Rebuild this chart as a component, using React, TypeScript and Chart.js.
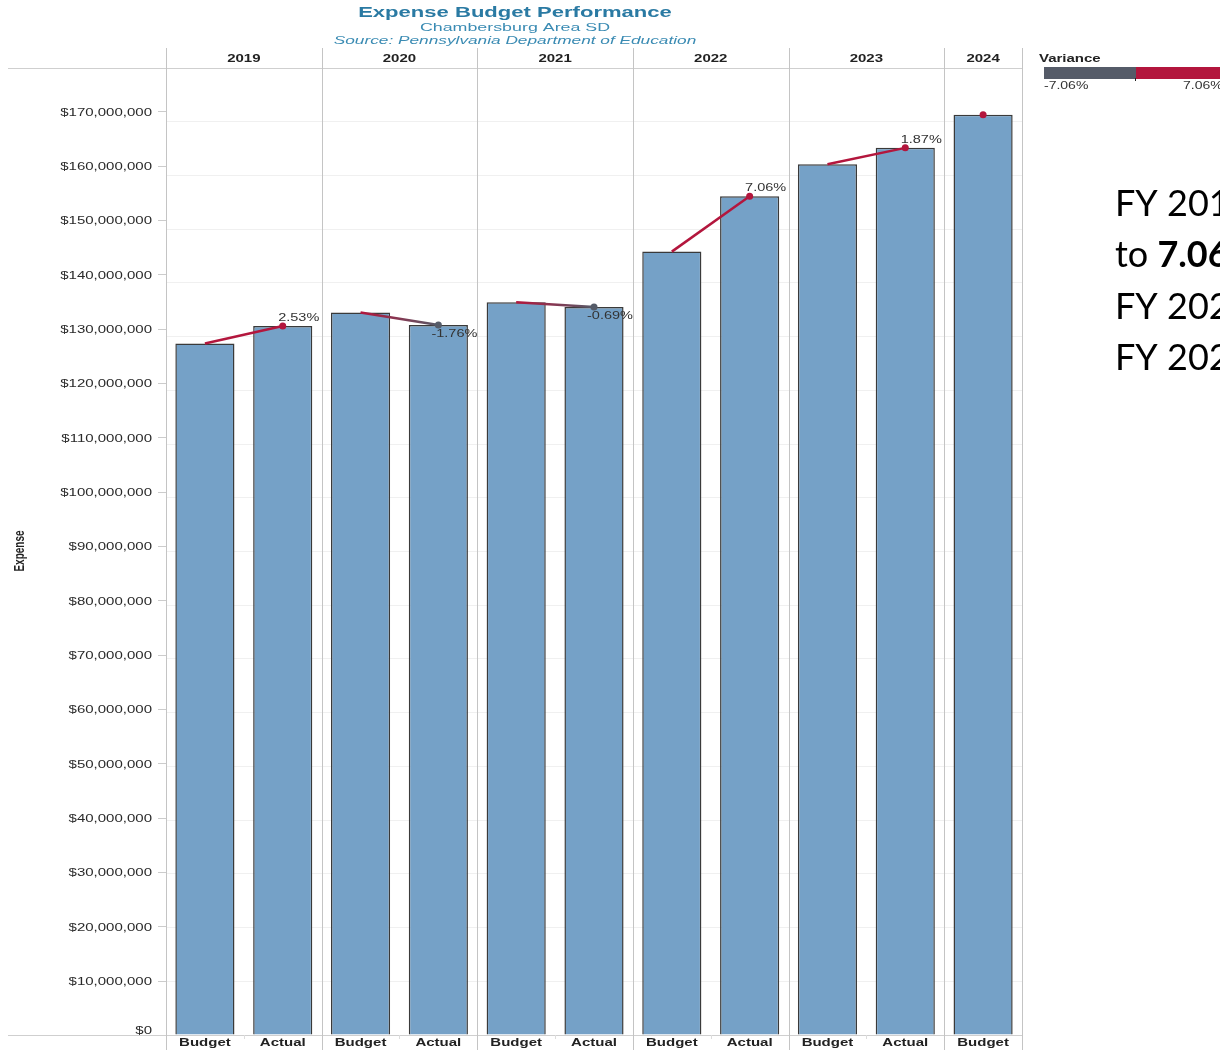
import React, { useEffect, useRef } from "react";
import { Chart, registerables } from "chart.js";

Chart.register(...registerables);

const years = ["2019", "2020", "2021", "2022", "2023", "2024"];
const budgetValues = [127300000, 133000000, 134900000, 144200000, 160300000, 169400000];
const actualValues = [130500000, 130700000, 134000000, 154400000, 163300000, null];
const variancePct = [2.53, -1.76, -0.69, 7.06, 1.87, null];
const yTickValues = [0, 10e6, 20e6, 30e6, 40e6, 50e6, 60e6, 70e6, 80e6, 90e6, 100e6, 110e6, 120e6, 130e6, 140e6, 150e6, 160e6, 170e6];
const legendRange = ["-7.06%", "7.06%"];
const sideNotes = [
  [{ t: "FY 2019 \u2013 FY 2023 variance ranged from -1.76%", b: false }],
  [{ t: "to ", b: false }, { t: "7.06%", b: true }, { t: " over budget", b: false }],
  [{ t: "FY 2022 had the largest overrun", b: false }],
  [{ t: "FY 2024 budget is $169.4M", b: false }],
];

const RED = "#b3163d";
const GRAY = "#555b68";
const BAR = "#75a1c7";
const SX = 1.5;

const categoryLabels: string[] = [];
const categoryYear: number[] = [];
const barValues: (number | null)[] = [];
years.forEach((y, i) => {
  categoryLabels.push("Budget");
  categoryYear.push(i);
  barValues.push(budgetValues[i]);
  if (actualValues[i] !== null) {
    categoryLabels.push("Actual");
    categoryYear.push(i);
    barValues.push(actualValues[i]);
  }
});

function colorFor(v: number | null) {
  if (v === null) return RED;
  return v >= 0 ? RED : GRAY;
}

function fmtMoney(v: number) {
  return "$" + Math.round(v).toLocaleString("en-US");
}

function txt(ctx: CanvasRenderingContext2D, s: string, x: number, y: number, font: string, color: string, align: CanvasTextAlign = "center", sx = SX) {
  ctx.save();
  ctx.font = font;
  ctx.fillStyle = color;
  ctx.textAlign = align;
  ctx.textBaseline = "middle";
  ctx.translate(x, y);
  ctx.scale(sx, 1);
  ctx.fillText(s, 0, 0);
  ctx.restore();
}

export default function App() {
  const ref = useRef<HTMLCanvasElement>(null);
  useEffect(() => {
    const canvas = ref.current!;
    const c2d = canvas.getContext("2d")!;

    const lineDatasets: any[] = [];
    years.forEach((y, i) => {
      const data: (number | null)[] = categoryLabels.map(() => null);
      const bIdx = categoryLabels.findIndex((_, k) => categoryYear[k] === i && categoryLabels[k] === "Budget");
      data[bIdx] = budgetValues[i];
      const radii: number[] = categoryLabels.map(() => 0);
      const colors: string[] = categoryLabels.map(() => RED);
      if (actualValues[i] !== null) {
        data[bIdx + 1] = actualValues[i];
        radii[bIdx + 1] = 3.5;
        colors[bIdx + 1] = colorFor(variancePct[i]);
      } else {
        radii[bIdx] = 3.5;
      }
      const v = variancePct[i];
      lineDatasets.push({
        type: "line",
        data,
        order: 1,
        borderColor: RED,
        borderWidth: 2.5,
        pointRadius: radii,
        pointBackgroundColor: colors,
        pointBorderColor: colors,
        pointBorderWidth: 0,
        spanGaps: false,
        segment: {
          borderColor: (sc: any) => {
            const g = c2d.createLinearGradient(sc.p0.x, sc.p0.y, sc.p1.x, sc.p1.y);
            g.addColorStop(0, RED);
            g.addColorStop(1, colorFor(v));
            return g;
          },
        },
      });
    });

    const decor = {
      id: "decor",
      afterDraw(chart: any) {
        const ctx: CanvasRenderingContext2D = chart.ctx;
        const xs = chart.scales.x;
        const ys = chart.scales.y;
        const area = chart.chartArea;
        const half = (xs.getPixelForValue(1) - xs.getPixelForValue(0)) / 2;

        // title block
        txt(ctx, "Expense Budget Performance", 515, 13, "bold 15px Arial", "#2a7aa3", "center", 1.47);
        txt(ctx, "Chambersburg Area SD", 515, 27.5, "11.5px Arial", "#3a8bb3", "center", 1.55);
        txt(ctx, "Source: Pennsylvania Department of Education", 515, 40.5, "italic 11.5px Arial", "#3a8bb3", "center", 1.5);

        // header & bottom lines
        ctx.save();
        ctx.strokeStyle = "#cfcfcf";
        ctx.lineWidth = 1;
        ctx.beginPath();
        ctx.moveTo(8, 68.5);
        ctx.lineTo(area.right, 68.5);
        ctx.moveTo(8, area.bottom + 0.5);
        ctx.lineTo(area.right, area.bottom + 0.5);
        ctx.stroke();

        // vertical pane dividers
        ctx.strokeStyle = "#c4c4c4";
        const bounds: number[] = [area.left];
        years.forEach((_, i) => {
          const idxs = categoryYear.map((yy, k) => (yy === i ? k : -1)).filter((k) => k >= 0);
          const last = idxs[idxs.length - 1];
          bounds.push(xs.getPixelForValue(last) + half);
        });
        ctx.beginPath();
        bounds.forEach((bx) => {
          const px = Math.round(bx) + 0.5;
          ctx.moveTo(px, 48);
          ctx.lineTo(px, 1050);
        });
        ctx.stroke();

        // small tick marks between categories at bottom
        ctx.strokeStyle = "#dddddd";
        ctx.beginPath();
        categoryLabels.forEach((_, k) => {
          if (k < categoryLabels.length - 1 && categoryYear[k] === categoryYear[k + 1]) {
            const px = Math.round(xs.getPixelForValue(k) + half) + 0.5;
            ctx.moveTo(px, area.bottom);
            ctx.lineTo(px, area.bottom + 4);
          }
        });
        ctx.stroke();

        // y tick marks
        ctx.strokeStyle = "#cccccc";
        ctx.beginPath();
        yTickValues.forEach((v) => {
          if (v === 0) return;
          const py = Math.round(ys.getPixelForValue(v)) + 0.5;
          ctx.moveTo(area.left - 8, py);
          ctx.lineTo(area.left, py);
        });
        ctx.stroke();
        ctx.restore();

        // y tick labels
        yTickValues.forEach((v) => {
          const py = v === 0 ? 1031 : ys.getPixelForValue(v) + 1.5;
          txt(ctx, fmtMoney(v), 152, py, "10px Arial", "#2a2a2a", "right", 1.5);
        });

        // y axis title
        ctx.save();
        ctx.translate(20, 551);
        ctx.scale(1.5, 1);
        ctx.rotate(-Math.PI / 2);
        ctx.font = "bold 10px Arial";
        ctx.fillStyle = "#222";
        ctx.textAlign = "center";
        ctx.textBaseline = "middle";
        ctx.fillText("Expense", 0, 0);
        ctx.restore();

        // year headers
        years.forEach((y, i) => {
          txt(ctx, y, (bounds[i] + bounds[i + 1]) / 2, 59, "bold 10px Arial", "#222", "center", 1.5);
        });

        // category labels
        categoryLabels.forEach((l, k) => {
          txt(ctx, l, xs.getPixelForValue(k), 1043.5, "bold 10px Arial", "#222", "center", 1.5);
        });

        // variance labels
        years.forEach((_, i) => {
          const v = variancePct[i];
          if (v === null) return;
          const k = categoryLabels.findIndex((_, kk) => categoryYear[kk] === i && categoryLabels[kk] === "Actual");
          const px = xs.getPixelForValue(k);
          const py = ys.getPixelForValue(actualValues[i] as number);
          txt(ctx, v.toFixed(2) + "%", px + 16, v >= 0 ? py - 8 : py + 9, "10px Arial", "#333", "center", 1.45);
        });

        // legend
        txt(ctx, "Variance", 1039, 59.5, "bold 10px Arial", "#222", "left", 1.5);
        ctx.fillStyle = GRAY;
        ctx.fillRect(1044, 67, 92, 12);
        ctx.fillStyle = RED;
        ctx.fillRect(1136, 67, 90, 12);
        ctx.fillStyle = "#222";
        ctx.fillRect(1135, 78, 1, 3);
        txt(ctx, legendRange[0], 1044, 86.5, "10px Arial", "#333", "left", 1.4);
        txt(ctx, legendRange[1], 1183, 86.5, "10px Arial", "#333", "left", 1.4);

        // side notes
        ctx.save();
        ctx.fillStyle = "#000";
        ctx.textBaseline = "alphabetic";
        ctx.textAlign = "left";
        sideNotes.forEach((line, li) => {
          let x = 1115;
          const y = 216 + li * 51.3;
          line.forEach((seg) => {
            ctx.font = (seg.b ? "bold " : "") + "36px Lato";
            ctx.fillText(seg.t, x, y);
            x += ctx.measureText(seg.t).width;
          });
        });
        ctx.restore();
      },
    };

    const chart = new Chart(canvas, {
      type: "bar",
      data: {
        labels: categoryLabels,
        datasets: [
          {
            type: "bar",
            data: barValues,
            order: 2,
            backgroundColor: BAR,
            borderColor: "#3a3a3a",
            borderWidth: 1.5,
            categoryPercentage: 1,
            barPercentage: 0.76,
          } as any,
          ...lineDatasets,
        ],
      },
      options: {
        responsive: false,
        animation: false,
        devicePixelRatio: 1,
        layout: { padding: { top: 68, left: 8, right: 198, bottom: 0 } },
        plugins: { legend: { display: false }, tooltip: { enabled: false }, title: { display: false } },
        scales: {
          x: {
            type: "category",
            grid: { display: false },
            border: { display: false },
            ticks: { display: false },
            afterFit(s: any) {
              s.height = 15;
            },
          },
          y: {
            min: 0,
            max: 178000000,
            ticks: { display: false, stepSize: 10000000 },
            grid: { color: "#f0f0f0", drawTicks: false },
            border: { display: false },
            afterFit(s: any) {
              s.width = 158;
            },
          },
        },
      } as any,
      plugins: [decor],
    });
    return () => chart.destroy();
  }, []);

  return (
    <div style={{ position: "absolute", left: 0, top: 0, width: 1220, height: 1050, overflow: "hidden", background: "#fff" }}>
      <canvas ref={ref} width={1220} height={1050} style={{ display: "block" }} />
    </div>
  );
}
